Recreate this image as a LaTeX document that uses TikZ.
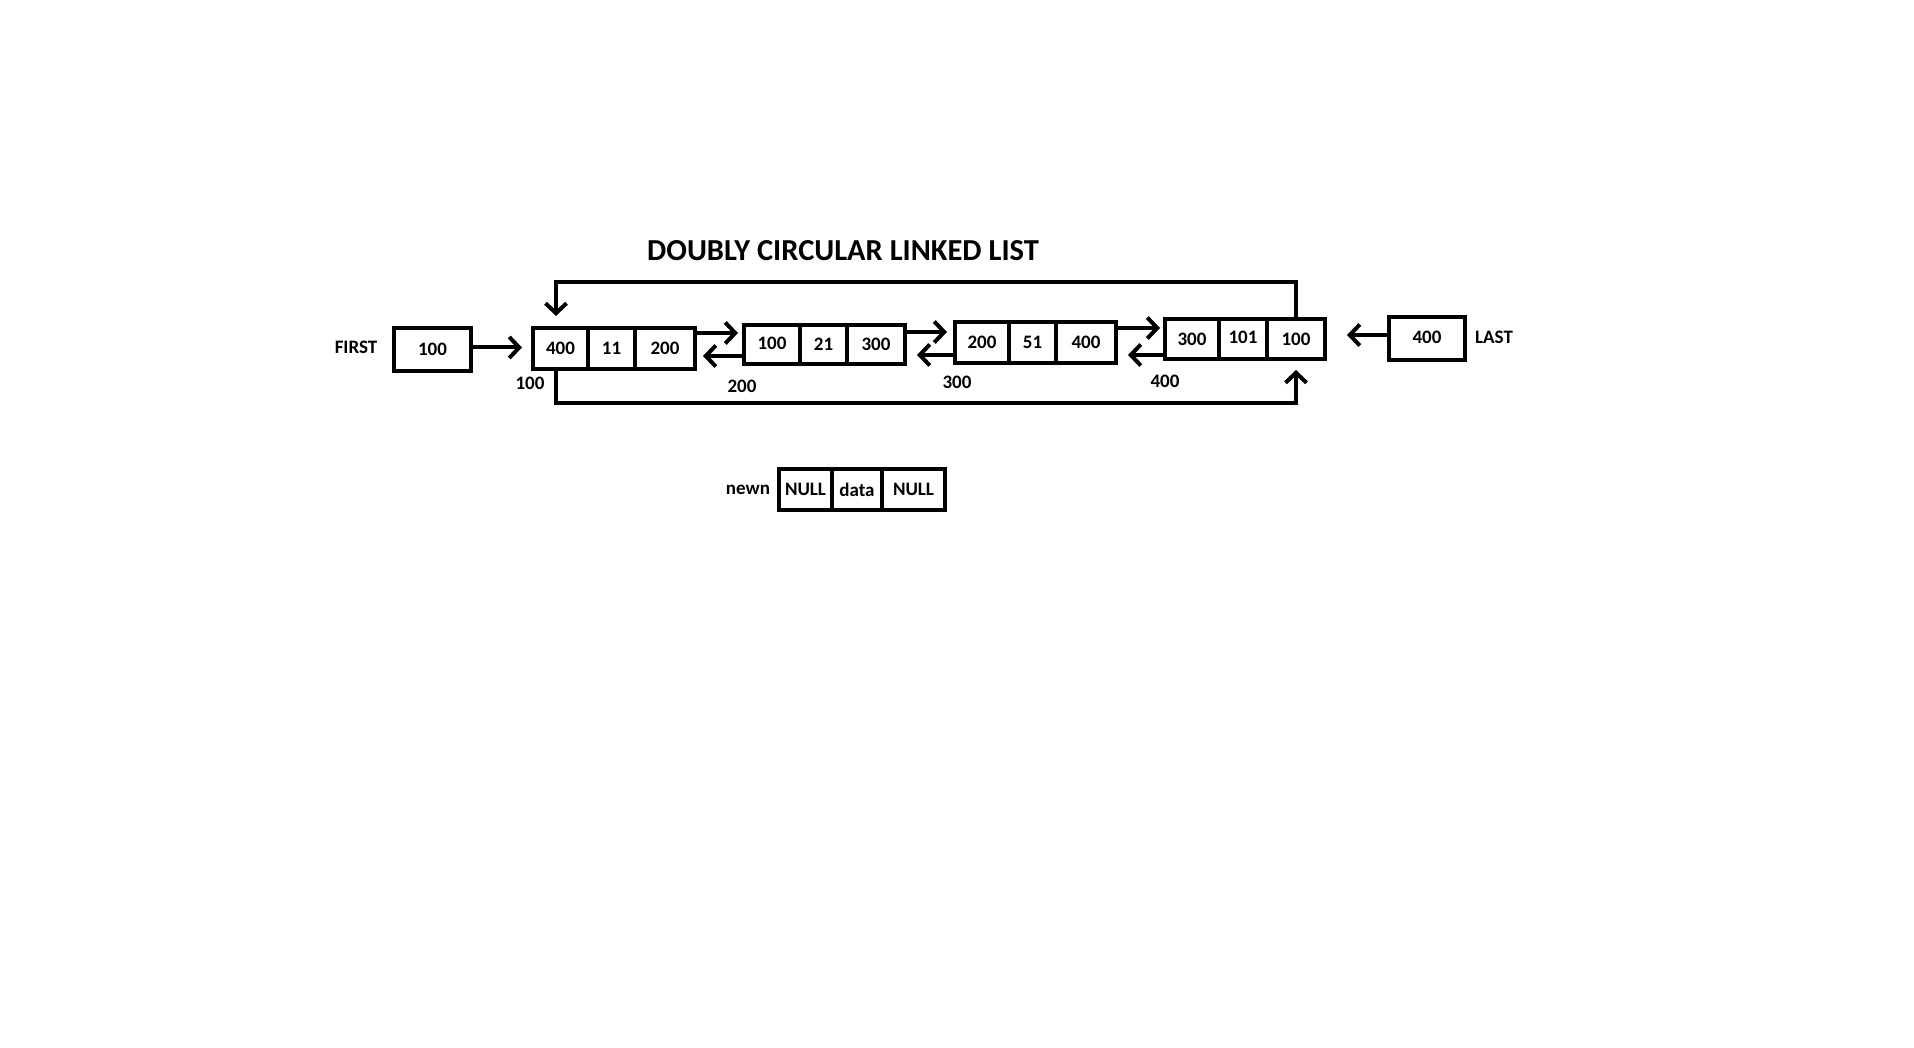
\documentclass[tikz,border=0pt]{standalone}
\usepackage{fontspec}
\setmainfont{Carlito}
\usepackage{tikz}
\usetikzlibrary{arrows.meta,positioning}

\begin{document}
\begin{tikzpicture}[x=1pt,y=1pt,line width=4pt]
  \tikzset{cell/.style={draw,minimum height=41pt,inner sep=0pt,outer sep=0pt,anchor=west,font=\fontsize{19}{22}\selectfont\bfseries},
           lbl/.style={inner sep=0pt,font=\fontsize{19}{22}\selectfont\bfseries},
           link/.style={-{Straight Barb[length=10pt,width=21pt]}}}
  \useasboundingbox (0,0) rectangle (1914,-1048);
  \node[lbl,font=\fontsize{30.5}{34}\selectfont\bfseries] (title) at (843,-251) {DOUBLY CIRCULAR LINKED LIST};
  \node[lbl] (first) at (356,-347) {FIRST};
  \node[cell,minimum width=77pt,minimum height=43pt] (f) at (394,-349.5) {100};
  \node[cell,minimum width=55pt] (a1) at (533,-348.5) {400};
  \node[cell,minimum width=47pt] (a2) at (a1.east) {11};
  \node[cell,minimum width=60pt] (a3) at (a2.east) {200};
  \node[cell,minimum width=56pt,minimum height=39pt] (b1) at (744,-344.5) {\raisebox{3pt}{100}};
  \node[cell,minimum width=47pt,minimum height=39pt] (b2) at (b1.east) {\raisebox{-2pt}{21}};
  \node[cell,minimum width=58pt,minimum height=39pt] (b3) at (b2.east) {300};
  \node[cell,minimum width=54pt] (c1) at (955,-342.5) {200};
  \node[cell,minimum width=47pt] (c2) at (c1.east) {51};
  \node[cell,minimum width=60pt] (c3) at (c2.east) {400};
  \node[cell,minimum width=54pt,minimum height=40pt] (d1) at (1165,-339) {300};
  \node[cell,minimum width=48pt,minimum height=40pt] (d2) at (d1.east) {\raisebox{3pt}{101}};
  \node[cell,minimum width=58pt,minimum height=40pt] (d3) at (d2.east) {100};
  \node[cell,minimum width=76pt,minimum height=43pt] (l) at (1389,-338.5) {\raisebox{3pt}{400}};
  \node[lbl] (last) at (1494,-337) {LAST};
  \node[lbl] (la) at (530,-383) {100};
  \node[lbl] (lb) at (742,-386) {200};
  \node[lbl] (lc) at (957,-382) {300};
  \node[lbl] (ld) at (1165,-381) {400};
  \node[lbl] (newn) at (748,-490) {newn};
  \node[cell,minimum width=53pt] (n1) at (779,-489.5) {NULL};
  \node[cell,minimum width=50pt] (n2) at (n1.east) {data};
  \node[cell,minimum width=63pt] (n3) at (n2.east) {NULL};
  \draw[link,shorten >=11pt] ([yshift=2pt]f.east) -- ([yshift=2pt]f.east -| a1.west);
  \draw[link,shorten >=6pt] ([yshift=15.5pt]a3.east) -- ([yshift=15.5pt]a3.east -| b1.west);
  \draw[link,shorten >=8pt] ([yshift=-11.5pt]b1.west) -- ([yshift=-11.5pt]b1.west -| a3.east);
  \draw[link,shorten >=8pt] ([yshift=12.5pt]b3.east) -- ([yshift=12.5pt]b3.east -| c1.west);
  \draw[link,shorten >=12pt] ([yshift=-12.5pt]c1.west) -- ([yshift=-12.5pt]c1.west -| b3.east);
  \draw[link,shorten >=5pt] ([yshift=14.5pt]c3.east) -- ([yshift=14.5pt]c3.east -| d1.west);
  \draw[link,shorten >=12pt] ([yshift=-16pt]d1.west) -- ([yshift=-16pt]d1.west -| c3.east);
  \draw[link,shorten >=22pt] ([yshift=3.5pt]l.west) -- ([yshift=3.5pt]l.west -| d3.east);
  \draw[link,shorten >=12pt] (d3.north) -- ++(0,37) -| ([xshift=-4.5pt]a1.north);
  \draw[link,shorten >=11pt] ([xshift=-4.5pt]a1.south) -- ++(0,-34) -| (d3.south);
\end{tikzpicture}
\end{document}
